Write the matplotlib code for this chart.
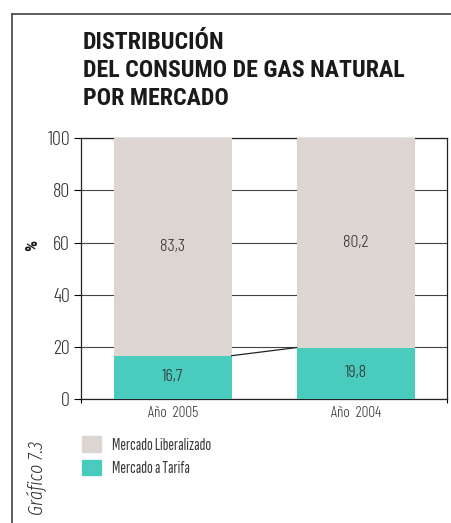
import numpy as np
import matplotlib
matplotlib.use("Agg")
import matplotlib.pyplot as plt
import matplotlib.font_manager as fm
from matplotlib.lines import Line2D
from matplotlib.patches import Patch

categories = ["Año  2005", "Año  2004"]
tarifa = [16.7, 19.8]
liberalizado = [83.3, 80.2]
series_names = ["Mercado Liberalizado", "Mercado a Tarifa"]
yticks = [0, 20, 40, 60, 80, 100]
title_lines = ["DISTRIBUCIÓN", "DEL CONSUMO DE GAS NATURAL", "POR MERCADO"]

TEAL = "#49cbbd"
GREY = "#ddd5d2"
TXT = "#333333"

installed = {f.name for f in fm.fontManager.ttflist}


def first(cands):
    for c in cands:
        if c in installed:
            return c
    return "DejaVu Sans"


BOLD = first(["Roboto Condensed"])
LIGHT = first(["Barlow Condensed", "Roboto Condensed"])
ITAL = first(["Fira Sans Extra Condensed", "Barlow Condensed"])
NARROW = first(["Sofia Sans Extra Condensed", "Barlow Condensed"])

fig = plt.figure(figsize=(4.52, 5.23), dpi=100)
ax = fig.add_axes([0.180, 0.2365, 0.809, 0.4996])

x = np.arange(len(categories))
w = 0.645
ax.bar(x, tarifa, w, color=TEAL, zorder=3)
ax.bar(x, liberalizado, w, bottom=tarifa, color=GREY, zorder=3)
# line joining the two tariff shares
ax.plot([x[0] + w / 2, x[1] - w / 2], tarifa, color="#222222", lw=0.9, zorder=3)

for i in range(len(x)):
    ax.text(x[i], tarifa[i] / 2, f"{tarifa[i]:.1f}".replace(".", ","), ha="center", va="center",
            fontsize=13, family=LIGHT, weight=300, color=TXT, zorder=4)
    ax.text(x[i], tarifa[i] + liberalizado[i] / 2, f"{liberalizado[i]:.1f}".replace(".", ","),
            ha="center", va="center", fontsize=13, family=LIGHT, weight=300, color=TXT, zorder=4)

ax.set_xlim(-0.5, 1.5)
ax.set_ylim(0, 100)
ax.set_yticks(yticks)
ax.tick_params(axis="y", length=5, width=0.8, pad=3, labelsize=14.5, labelcolor=TXT)
for lab in ax.get_yticklabels():
    lab.set_family(LIGHT)
    lab.set_weight(300)
ax.yaxis.grid(True, color="#444444", lw=0.8, zorder=0)

ax.set_xticks([-0.5, 1.5])
ax.set_xticklabels(["", ""])
ax.tick_params(axis="x", which="major", length=3, width=0.8)
ax.set_xticks(x, minor=True)
ax.set_xticklabels(categories, minor=True, family=LIGHT, weight=300)
ax.tick_params(axis="x", which="minor", length=0, pad=5, labelsize=11, labelcolor=TXT)
for s in ax.spines.values():
    s.set_linewidth(0.9)
    s.set_color("#222222")

fig.text(0.073, 0.5315, "%", rotation=90, ha="center", va="center", fontsize=12.5,
         family=BOLD, weight="bold", color="#1a1a1a")

for yy, line in zip([0.906, 0.853, 0.799], title_lines):
    fig.text(0.1836, yy, line, fontsize=17.2, family=BOLD, weight="bold", color="#1a1a1a", va="baseline")

# outer frame (left and top edges)
fig.add_artist(Line2D([0.0265, 0.0265], [0, 0.973], color="#444444", lw=1.2))
fig.add_artist(Line2D([0.0265, 1.0], [0.973, 0.973], color="#444444", lw=1.2))

handles = [Patch(color=GREY), Patch(color=TEAL)]
fig.legend(handles, series_names, loc="upper left", bbox_to_anchor=(0.181, 0.1663),
           frameon=False, prop={"family": NARROW, "size": 12.3},
           labelcolor="#3a3a3a", handlelength=1.1, handleheight=1.05, handletextpad=0.65,
           labelspacing=0.4, borderpad=0, borderaxespad=0)

fig.text(0.0808, 0.0153, "Gráfico 7.3", rotation=90, style="italic", fontsize=14,
         family=ITAL, weight=300, color=TXT, ha="center", va="bottom")

fig.savefig("out.png", dpi=100)
